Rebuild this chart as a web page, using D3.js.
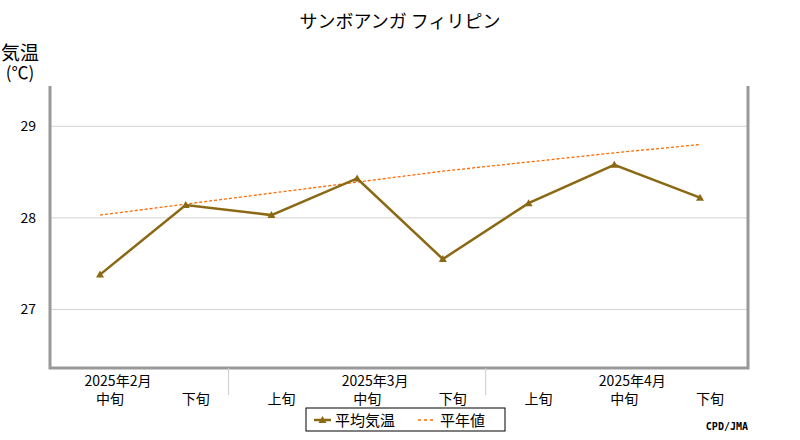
<!DOCTYPE html><html><head><meta charset="utf-8"><script src="https://cdn.jsdelivr.net/npm/d3@7"></script>
<style>body{margin:0;background:#fff}text{font-family:"Noto Sans CJK JP",sans-serif}</style></head><body><svg id="c" width="800" height="440"></svg>
<script>
const categories=["中旬","下旬","上旬","中旬","下旬","上旬","中旬","下旬"];
const months=[{label:"2025年2月",i:0},{label:"2025年3月",i:3},{label:"2025年4月",i:6}];
const meanTemp=[27.38,28.14,28.03,28.43,27.55,28.16,28.58,28.22];
const normalTemp=[28.03,28.15,28.27,28.39,28.51,28.61,28.71,28.80];
const yTicks=[27,28,29];
const svg=d3.select("#c");
const L=50,R=748,T=86,B=368;
const x=d3.scalePoint().domain(d3.range(categories.length)).range([100,700]);
const y=d3.scaleLinear().domain([26.36,29.44]).range([B,T]);
const g=svg.append("g");
g.selectAll(".gl").data(yTicks).join("line").attr("x1",L).attr("x2",R).attr("y1",d=>y(d)).attr("y2",d=>y(d)).attr("stroke","#d3d3d3");
g.selectAll(".yt").data(yTicks).join("text").attr("x",36).attr("y",d=>y(d)+5).attr("text-anchor","end").attr("font-size",14).text(d=>d);
svg.append("path").attr("d",`M${L},${T}V${B}H${R}V${T}`).attr("fill","none").attr("stroke","#999").attr("stroke-width",3);
[2,5].forEach(i=>{const xs=(x(i-1)+x(i))/2;svg.append("line").attr("x1",xs).attr("x2",xs).attr("y1",B).attr("y2",395).attr("stroke","#ccc");});
svg.selectAll(".cl").data(categories).join("text").attr("x",(d,i)=>x(i)+10).attr("y",404).attr("text-anchor","middle").attr("font-size",14).text(d=>d);
svg.selectAll(".ml").data(months).join("text").attr("x",d=>x(d.i)+18).attr("y",386).attr("text-anchor","middle").attr("font-size",14).text(d=>d.label);
const line=d3.line().x((d,i)=>x(i)).y(d=>y(d));
svg.append("path").attr("d",line(normalTemp)).attr("fill","none").attr("stroke","#ff6a00").attr("stroke-width",1.3).attr("stroke-dasharray","3,2");
svg.append("path").attr("d",line(meanTemp)).attr("fill","none").attr("stroke","#8b6914").attr("stroke-width",2.5);
svg.selectAll(".mk").data(meanTemp).join("path").attr("transform",(d,i)=>`translate(${x(i)},${y(d)})`).attr("d","M0,-4L4,3H-4Z").attr("fill","#8b6914");
svg.append("text").attr("x",400).attr("y",28).attr("text-anchor","middle").attr("font-size",18).text("サンボアンガ フィリピン");
svg.append("text").attr("x",20).attr("y",60).attr("text-anchor","middle").attr("font-size",19).text("気温");
svg.append("text").attr("x",20).attr("y",79).attr("text-anchor","middle").attr("font-size",17).text("(℃)");
const lg=svg.append("g");
lg.append("rect").attr("x",306).attr("y",408).attr("width",199).attr("height",23).attr("fill","#fff").attr("stroke","#000");
lg.append("line").attr("x1",314).attr("x2",331).attr("y1",420).attr("y2",420).attr("stroke","#8b6914").attr("stroke-width",2.5);
lg.append("path").attr("d","M322.5,416L326.5,423H318.5Z").attr("fill","#8b6914");
lg.append("text").attr("x",335).attr("y",426).attr("font-size",15).text("平均気温");
lg.append("line").attr("x1",418).attr("x2",436).attr("y1",420).attr("y2",420).attr("stroke","#ff6a00").attr("stroke-width",1.3).attr("stroke-dasharray","3,3");
lg.append("text").attr("x",440).attr("y",426).attr("font-size",15).text("平年値");
svg.append("text").attr("x",748).attr("y",430).attr("text-anchor","end").attr("font-size",10).attr("font-weight","bold").style("font-family","DejaVu Sans Mono").text("CPD/JMA");
</script></body></html>
